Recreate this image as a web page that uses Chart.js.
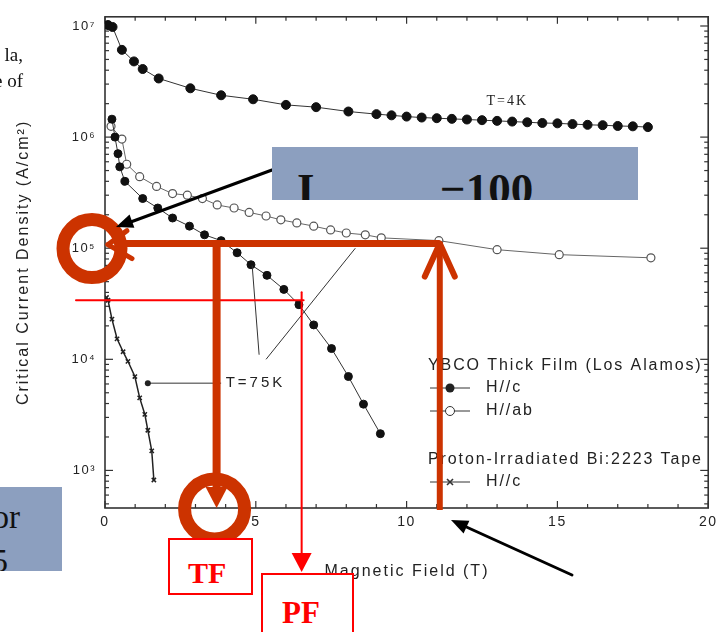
<!DOCTYPE html>
<html>
<head>
<meta charset="utf-8">
<script src="https://cdn.jsdelivr.net/npm/chart.js@4.4.0/dist/chart.umd.min.js"></script>
<style>
  html, body { margin: 0; padding: 0; background: #fff; }
  #wrap { position: relative; width: 722px; height: 632px; overflow: hidden; }
  #chart { position: absolute; left: 0; top: 0; }
  .serif { position: absolute; font-family: "Liberation Serif", "Times New Roman", serif; color: #111; white-space: nowrap; }
  .blue { position: absolute; background: #8c9fbf; overflow: hidden; }
  .redbox { position: absolute; background: #fff; border: 2px solid #ff0000; color: #ff0000; font-weight: bold;
            font-family: "Liberation Serif", "Times New Roman", serif; line-height: 1; box-sizing: border-box; }
</style>
</head>
<body>
<div id="wrap">
  <canvas id="chart" width="722" height="632"></canvas>

  <div class="serif" style="right:699px;top:44px;font-size:19px;">la,</div>
  <div class="serif" style="right:699px;top:70px;font-size:19px;">e of</div>

  <div class="blue" style="left:272px;top:147px;width:366px;height:53px;">
    <span class="serif" style="left:25px;top:20px;font-size:45px;font-weight:bold;line-height:1;">I</span>
    <span class="serif" style="left:168px;top:20px;font-size:45px;font-weight:bold;line-height:1;">−100</span>
  </div>

  <div class="blue" style="left:0;top:487px;width:62px;height:84px;">
    <span class="serif" style="right:42px;top:14px;font-size:33px;line-height:1;">or</span>
    <span class="serif" style="right:54px;top:58px;font-size:33px;line-height:1;">5</span>
  </div>

  <div class="redbox" style="left:168px;top:538px;width:85px;height:57px;font-size:30px;padding:18px 0 0 18px;">TF</div>
  <div class="redbox" style="left:261px;top:573px;width:93px;height:64px;font-size:31px;padding:22px 0 0 19px;">PF</div>
</div>

<script>
// YBCO thick film, T = 4 K, H // c
const fieldT4K = [0.1, 0.25, 0.56, 0.96, 1.25, 1.78, 2.83, 3.85, 4.91, 6.0, 7.0, 8.07,
                  9.0, 9.5, 10.0, 10.5, 11.0, 11.5, 12.0, 12.5, 13.0, 13.5, 14.0, 14.5,
                  15.0, 15.5, 16.0, 16.5, 17.0, 17.5, 18.0];
const jcT4K = [1.02e7, 9.8e6, 6.1e6, 4.8e6, 4.1e6, 3.37e6, 2.75e6, 2.38e6, 2.19e6, 1.95e6, 1.86e6, 1.7e6,
               1.61e6, 1.57e6, 1.53e6, 1.5e6, 1.48e6, 1.46e6, 1.44e6, 1.42e6, 1.4e6, 1.38e6, 1.36e6, 1.34e6,
               1.33e6, 1.31e6, 1.29e6, 1.28e6, 1.26e6, 1.25e6, 1.23e6];

// YBCO thick film, T = 75 K, H // c
const field75c = [0.23, 0.33, 0.43, 0.49, 0.66, 1.25, 1.75, 2.24, 2.8, 3.3, 3.85, 4.38,
                  4.84, 5.37, 5.93, 6.43, 6.92, 7.51, 8.07, 8.57, 9.13];
const jc75c = [1.45e6, 1.0e6, 7.1e5, 5.4e5, 4.0e5, 2.8e5, 2.3e5, 1.87e5, 1.58e5, 1.32e5, 1.17e5, 9.1e4,
               7.1e4, 5.7e4, 4.26e4, 3.1e4, 2.04e4, 1.25e4, 7.0e3, 3.95e3, 2.14e3];

// YBCO thick film, T = 75 K, H // ab
const field75ab = [0.2, 0.56, 0.72, 1.15, 1.71, 2.24, 2.73, 3.23, 3.72, 4.28, 4.78, 5.34,
                   5.83, 6.36, 6.92, 7.48, 8.0, 8.63, 9.16, 11.07, 13.0, 15.06, 18.1];
const jc75ab = [1.25e6, 9.6e5, 5.7e5, 4.4e5, 3.6e5, 3.1e5, 3.0e5, 2.8e5, 2.45e5, 2.3e5, 2.1e5, 1.95e5,
                1.8e5, 1.69e5, 1.58e5, 1.46e5, 1.37e5, 1.32e5, 1.24e5, 1.17e5, 9.7e4, 8.75e4, 8.2e4];

// Proton-irradiated Bi:2223 tape, T = 75 K, H // c
const fieldTape = [0.05, 0.1, 0.23, 0.4, 0.6, 0.76, 0.99, 1.15, 1.32, 1.42, 1.55, 1.62];
const jcTape = [3.6e4, 3.4e4, 2.3e4, 1.53e4, 1.17e4, 9.6e3, 7.0e3, 4.5e3, 3.2e3, 2.3e3, 1.5e3, 820];

// axes
const fieldTicks = [0, 5, 10, 15, 20];
const jcMin = 459, jcMax = 1.21e7;

// slide annotations
const jcTarget = 1.1e5;   // thick orange horizontal line
const fieldTF = 3.7;      // TF arrow
const fieldOp = 11.1;     // upward arrow
const jcPF = 3.4e4;       // thin red horizontal line
const fieldPF = 6.52;     // PF arrow

const sup = {2: '²', 3: '³', 4: '⁴', 5: '⁵', 6: '⁶', 7: '⁷'};
const toPts = (xs, ys) => xs.map((v, i) => ({x: v, y: ys[i]}));
const sans = '"Liberation Sans", Arial, sans-serif';
const ink = '#222';

function seg(ctx, x1, y1, x2, y2) {
    ctx.beginPath(); ctx.moveTo(x1, y1); ctx.lineTo(x2, y2); ctx.stroke();
}

function arrowHead(ctx, fromX, fromY, tipX, tipY, len, half) {
    const ang = Math.atan2(tipY - fromY, tipX - fromX);
    ctx.beginPath();
    ctx.moveTo(tipX, tipY);
    ctx.lineTo(tipX - len * Math.cos(ang) + half * Math.sin(ang), tipY - len * Math.sin(ang) - half * Math.cos(ang));
    ctx.lineTo(tipX - len * Math.cos(ang) - half * Math.sin(ang), tipY - len * Math.sin(ang) + half * Math.cos(ang));
    ctx.closePath(); ctx.fill();
}

// frame with inward ticks, like the scanned figure
const framePlugin = {
    id: 'frame',
    beforeDraw(chart) {
        // the scan's lettering is widely spaced
        chart.ctx.letterSpacing = '1.5px';
    },
    beforeDatasetsDraw(chart) {
        const {ctx, chartArea: a, scales: {x, y}} = chart;
        ctx.save();
        ctx.strokeStyle = '#333';
        ctx.lineWidth = 1.6;
        ctx.strokeRect(a.left, a.top, a.right - a.left, a.bottom - a.top);
        ctx.lineWidth = 1.2;
        for (let v = 0; v <= 20; v++) {
            const px = x.getPixelForValue(v);
            const len = v % 5 === 0 ? 7 : 4;
            seg(ctx, px, a.bottom, px, a.bottom - len);
            seg(ctx, px, a.top, px, a.top + len);
        }
        for (let e = 2; e <= 7; e++) {
            for (let m = 1; m <= 9; m++) {
                const v = m * Math.pow(10, e);
                if (v < y.min || v > y.max) continue;
                const py = y.getPixelForValue(v);
                const len = m === 1 ? 8 : 4;
                seg(ctx, a.left, py, a.left + len, py);
                seg(ctx, a.right, py, a.right - len, py);
            }
        }

        // axis titles
        ctx.fillStyle = ink;
        ctx.textAlign = 'center';
        ctx.textBaseline = 'middle';
        ctx.letterSpacing = '2px';
        ctx.font = '16px ' + sans;
        ctx.fillText('Magnetic Field (T)', 407, 572);
        ctx.translate(24, (a.top + a.bottom) / 2);
        ctx.rotate(-Math.PI / 2);
        ctx.fillText('Critical Current Density (A/cm²)', 0, 0);
        ctx.restore();
    }
};

// labels and legend of the original figure
const figureTextPlugin = {
    id: 'figureText',
    afterDatasetsDraw(chart) {
        const {ctx, scales: {x, y}} = chart;
        ctx.save();
        ctx.fillStyle = ink;
        ctx.strokeStyle = '#333';
        ctx.lineWidth = 1;
        ctx.textBaseline = 'middle';

        // T=4K
        ctx.letterSpacing = '2px';
        ctx.font = '14px "Liberation Serif", serif';
        ctx.fillText('T=4K', x.getPixelForValue(12.65), y.getPixelForValue(2.1e6));

        // T=75K with its pointers
        ctx.letterSpacing = '3px';
        ctx.font = '15px ' + sans;
        const yLab = y.getPixelForValue(6.1e3);
        seg(ctx, x.getPixelForValue(1.42), yLab, x.getPixelForValue(3.85), yLab);
        ctx.beginPath(); ctx.arc(x.getPixelForValue(1.42), yLab, 3, 0, Math.PI * 2); ctx.fill();
        ctx.fillText('T=75K', x.getPixelForValue(4.0), yLab);
        seg(ctx, x.getPixelForValue(4.88), y.getPixelForValue(6.98e4), x.getPixelForValue(5.11), y.getPixelForValue(1.1e4));
        seg(ctx, x.getPixelForValue(5.34), y.getPixelForValue(1.0e4), x.getPixelForValue(8.3), y.getPixelForValue(1.0e5));

        // legend
        const lx = 428;
        ctx.letterSpacing = '1.9px';
        ctx.font = '16px ' + sans;
        ctx.fillText('YBCO Thick Film (Los Alamos)', lx, 366);
        ctx.fillText('H//c', 486, 388);
        ctx.fillText('H//ab', 486, 411);
        ctx.fillText('Proton-Irradiated Bi:2223 Tape', lx, 460);
        ctx.fillText('H//c', 486, 482);
        [388, 411, 482].forEach(py => seg(ctx, 430, py, 470, py));
        ctx.beginPath(); ctx.arc(450, 388, 4.5, 0, Math.PI * 2); ctx.fill();
        ctx.fillStyle = '#fff';
        ctx.beginPath(); ctx.arc(450, 411, 4.5, 0, Math.PI * 2); ctx.fill(); ctx.stroke();
        ctx.lineWidth = 1.6;
        seg(ctx, 447, 479, 453, 485); seg(ctx, 447, 485, 453, 479);
        ctx.restore();
    }
};

// hand-drawn slide marks on top of the figure
const slidePlugin = {
    id: 'slide',
    afterDraw(chart) {
        const {ctx, chartArea: a, scales: {x, y}} = chart;
        const orange = '#cc3300';
        const yT = y.getPixelForValue(jcTarget);
        const x0 = x.getPixelForValue(0);
        const xTF = x.getPixelForValue(fieldTF);
        const xOp = x.getPixelForValue(fieldOp);
        const yPF = y.getPixelForValue(jcPF);
        const xPF = x.getPixelForValue(fieldPF);
        ctx.save();
        ctx.lineCap = 'round';

        // thin red PF lines
        ctx.strokeStyle = '#ff0000'; ctx.fillStyle = '#ff0000'; ctx.lineWidth = 2;
        seg(ctx, x0 - 29, yPF, xPF + 2, yPF);
        seg(ctx, xPF, yPF - 8, xPF, 556);
        arrowHead(ctx, xPF, 500, xPF, 572, 19, 10);

        // thick orange lines
        ctx.strokeStyle = orange; ctx.fillStyle = orange;
        ctx.lineWidth = 7;
        ctx.lineCap = 'butt';
        seg(ctx, x0 + 20, yT, xOp, yT);
        ctx.lineWidth = 8;
        seg(ctx, xTF, yT - 3, xTF, a.bottom - 18);
        arrowHead(ctx, xTF, yT, xTF, a.bottom, 21, 11);
        ctx.lineWidth = 6;
        seg(ctx, xOp, a.bottom + 2, xOp, yT);
        ctx.lineCap = 'round';
        seg(ctx, xOp, yT, xOp - 15, yT + 33);
        seg(ctx, xOp, yT, xOp + 15, yT + 33);
        ctx.lineWidth = 5;
        seg(ctx, x0 + 3, yT + 1, x0 + 22, yT - 13);
        seg(ctx, x0 + 3, yT + 1, x0 + 27, yT + 15);

        // rings
        ctx.lineWidth = 13;
        ctx.beginPath(); ctx.arc(x0 - 13, yT + 5, 29, 0, Math.PI * 2); ctx.stroke();
        ctx.beginPath(); ctx.arc(xTF - 2, a.bottom + 1, 30, 0, Math.PI * 2); ctx.stroke();

        // black arrows
        ctx.strokeStyle = '#000'; ctx.fillStyle = '#000'; ctx.lineWidth = 3;
        seg(ctx, 272, 170, 128, 223);
        arrowHead(ctx, 272, 170, 116, 227, 17, 7);
        seg(ctx, 572, 575, 462, 525);
        arrowHead(ctx, 572, 575, 451, 520, 17, 7);
        ctx.restore();
        ctx.letterSpacing = '0px';
    }
};

const ctx = document.getElementById('chart').getContext('2d');
new Chart(ctx, {
    type: 'line',
    data: {
        datasets: [
            {
                label: 'T=4K H//c',
                data: toPts(fieldT4K, jcT4K),
                borderColor: '#333', borderWidth: 1,
                pointRadius: 4.5, pointBackgroundColor: '#111', pointBorderColor: '#111', pointBorderWidth: 1
            },
            {
                label: 'T=75K H//c',
                data: toPts(field75c, jc75c),
                borderColor: '#333', borderWidth: 1,
                pointRadius: 4, pointBackgroundColor: '#111', pointBorderColor: '#111', pointBorderWidth: 1
            },
            {
                label: 'T=75K H//ab',
                data: toPts(field75ab, jc75ab),
                borderColor: '#666', borderWidth: 1,
                pointRadius: 4, pointBackgroundColor: '#fff', pointBorderColor: '#555', pointBorderWidth: 1.2
            },
            {
                label: 'Bi:2223 H//c',
                data: toPts(fieldTape, jcTape),
                borderColor: '#222', borderWidth: 1.5,
                pointStyle: 'crossRot', pointRadius: 3, pointBorderColor: '#222', pointBorderWidth: 1.5
            }
        ]
    },
    options: {
        responsive: false,
        animation: false,
        devicePixelRatio: 1,
        layout: { padding: { top: 11, right: 10, left: 0, bottom: 0 } },
        plugins: { legend: { display: false }, tooltip: { enabled: false } },
        elements: { line: { tension: 0 } },
        scales: {
            x: {
                type: 'linear', min: fieldTicks[0], max: fieldTicks[fieldTicks.length - 1],
                afterFit: s => { s.height = 124; },
                grid: { display: false, drawTicks: false },
                border: { display: false },
                ticks: { stepSize: 5, padding: 6, color: ink, font: { size: 14, family: sans } }
            },
            y: {
                type: 'logarithmic', min: jcMin, max: jcMax,
                afterFit: s => { s.width = 105; },
                grid: { display: false, drawTicks: false },
                border: { display: false },
                ticks: {
                    autoSkip: false, padding: 9, color: ink,
                    font: { size: 13, family: sans },
                    callback: v => {
                        const e = Math.log10(v);
                        return Math.abs(e - Math.round(e)) < 1e-9 ? '10' + sup[Math.round(e)] : '';
                    }
                }
            }
        }
    },
    plugins: [framePlugin, figureTextPlugin, slidePlugin]
});
</script>
</body>
</html>
